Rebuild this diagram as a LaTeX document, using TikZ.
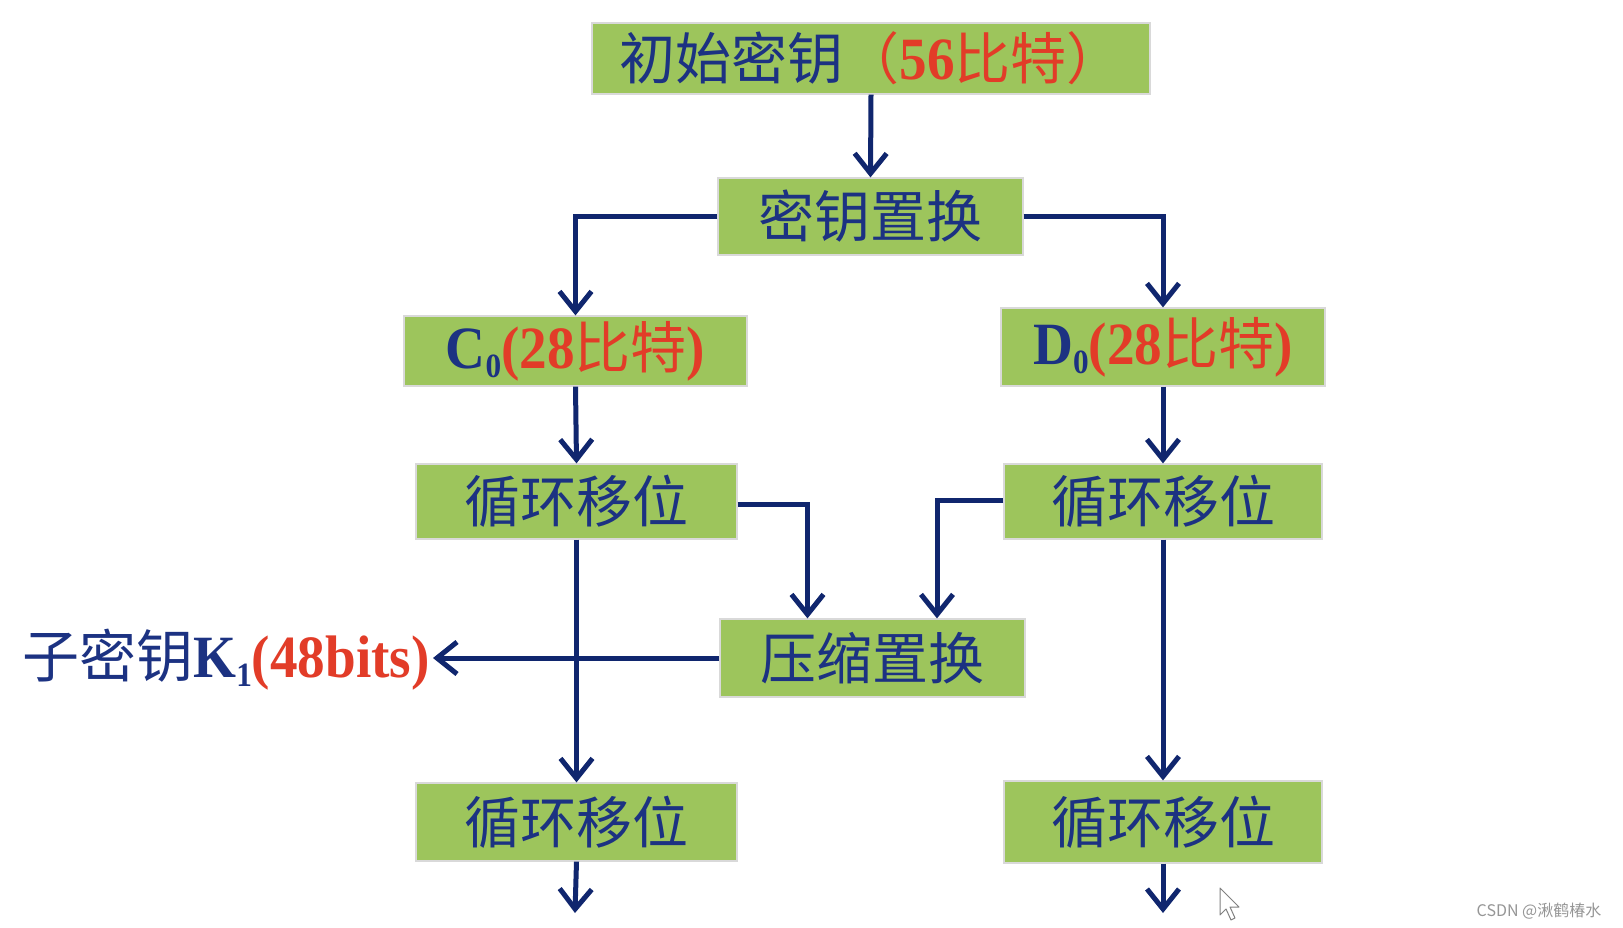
\documentclass[tikz,border=0pt]{standalone}
\usepackage{fontspec}
\usetikzlibrary{arrows.meta,calc}
\newfontfamily\cjk{Noto Sans CJK SC}
\newfontfamily\lat{Liberation Serif}[FakeStretch=0.92]
\newfontfamily\wmfont{Noto Sans CJK SC}
\definecolor{boxgreen}{RGB}{157,197,92}
\definecolor{navy}{RGB}{28,50,130}
\definecolor{linenavy}{RGB}{16,38,110}
\definecolor{txtred}{RGB}{226,60,40}
\definecolor{wmgray}{RGB}{150,150,150}
\newcommand{\la}[1]{{\lat\bfseries\fontsize{60}{66}\selectfont #1}}
\newcommand{\subsc}[1]{\raisebox{-9pt}{\lat\bfseries\fontsize{34}{34}\selectfont #1}}
\begin{document}
\begin{tikzpicture}[x=1pt,y=-1pt,
  box/.style={rectangle, fill=boxgreen, draw=black!15, line width=1.2pt, inner sep=0pt,
    text=navy, font=\cjk\fontsize{56}{62}\selectfont},
  conn/.style={draw=linenavy, line width=5pt, -{Straight Barb[length=20pt,width=32pt]}},
  ln/.style={draw=linenavy, line width=5pt}]
\useasboundingbox[fill=white] (0,0) rectangle (1623,928);

\node[box, minimum width=558pt, minimum height=71pt] (top) at (871,58.5)
  {初始密钥{\color{txtred}（\la{56}比特）}};
\node[box, minimum width=305pt, minimum height=77pt] (key) at (870.5,216.5) {密钥置换};
\node[box, minimum width=343pt, minimum height=70pt] (c0) at (575.5,351)
  {\la{C}\subsc{0}{\color{txtred}\la{(28}比特\la{)}}};
\node[box, minimum width=324pt, minimum height=78pt] (d0) at (1163,347)
  {\la{D}\subsc{0}{\color{txtred}\la{(28}比特\la{)}}};
\node[box, minimum width=321pt, minimum height=75pt] (l1) at (576.5,501.5) {循环移位};
\node[box, minimum width=318pt, minimum height=75pt] (r1) at (1163,501.5) {循环移位};
\node[box, minimum width=305pt, minimum height=78pt] (comp) at (872.5,658) {压缩置换};
\node[box, minimum width=321pt, minimum height=78pt] (l2) at (576.5,822) {循环移位};
\node[box, minimum width=318pt, minimum height=82pt] (r2) at (1163,822) {循环移位};

\node[anchor=east, inner sep=3pt, text=navy, font=\cjk\fontsize{57}{62}\selectfont] (k1) at (433,660)
  {子密钥\la{K}\subsc{1}{\color{txtred}\la{(48bits)}}};

\coordinate (lend) at (575,913);
\coordinate (rend) at (1163,913);

\draw[conn] (top.south) -- (key.north);
\draw[conn] (key.west) -| (c0.north);
\draw[conn] (key.east) -| (d0.north);
\draw[conn] (c0.south) -- (l1.north);
\draw[conn] (d0.south) -- (r1.north);
\draw[conn] ($(l1.east)+(0,3)$) -| ($(comp.north)+(-65,0)$);
\draw[conn] ($(r1.west)+(0,-1)$) -| ($(comp.north)+(64.5,0)$);
\draw[conn] (comp.west) -- (comp.west -| k1.east);
\draw[conn] (l1.south) -- (l2.north);
\draw[conn] (r1.south) -- (r2.north);
\draw[conn] (l2.south) -- (lend);
\draw[conn] (r2.south) -- (rend);

% mouse cursor
\draw[fill=white, draw=black!50, line width=1pt, line join=round]
  (1220,888) -- (1220,915) -- (1226,909) -- (1231,920) -- (1235,918) -- (1230,907) -- (1239,907) -- cycle;

\node[text=wmgray, font=\wmfont\fontsize{16}{18}\selectfont, inner sep=0pt] (wm) at (1539,911) {CSDN @湫鹤椿水};
\end{tikzpicture}
\end{document}
